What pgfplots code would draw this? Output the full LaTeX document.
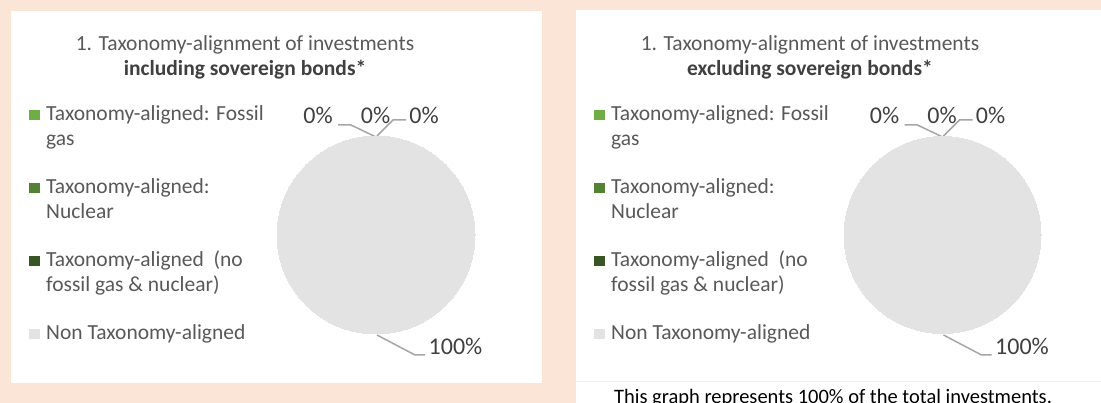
\documentclass[border=0pt]{standalone}
\usepackage{fontspec}
\setmainfont{Carlito}
\usepackage{pgfplots}
\pgfplotsset{compat=1.18}

\definecolor{peach}{HTML}{FBE5D6}
\definecolor{gasgreen}{HTML}{70AD47}
\definecolor{nucgreen}{HTML}{548235}
\definecolor{darkgreen}{HTML}{375623}
\definecolor{nongray}{HTML}{E3E3E3}
\definecolor{txtgray}{HTML}{595959}
\definecolor{labgray}{HTML}{404040}
\definecolor{leadgray}{HTML}{A6A6A6}

\newcommand\legfont{\fontsize{21.5}{25}\selectfont}
\newcommand\labfont{\fontsize{24}{28}\selectfont}

% one panel = one hidden axis, coordinates in px from the panel's top left corner
\pgfplotsset{
  panel/.style={
    scale only axis, width=531pt, height=372pt,
    xmin=0, xmax=531, ymin=0, ymax=372, y dir=reverse,
    hide axis, clip=false, anchor=north west,
    title style={at={(axis cs:234,71)}, anchor=base, align=center,
      inner sep=0pt, font=\legfont, text=txtgray},
    legend style={at={(axis cs:18,91.5)}, anchor=north west,
      draw=none, fill=none, inner sep=0pt, row sep=54pt, column sep=6.5pt,
      nodes={inner sep=0pt, text=txtgray, font=\legfont},
      cells={anchor=base west}},
    legend image code/.code={\fill[##1] (0pt,0pt) rectangle (10.5pt,10.5pt);},
  },
  lead/.style={forget plot, leadgray, line width=1.5pt},
  pie/.style={forget plot, nongray, only marks, mark=*,
    mark options={draw=nongray, fill=nongray, line width=0pt}},
  pielabels/.style={forget plot, draw=none, nodes near coords,
    point meta=explicit symbolic,
    every node near coord/.append style={anchor=base, inner sep=0pt,
      font=\labfont, text=labgray}},
}

\newcommand\pielegend{%
  \addlegendimage{fill=gasgreen, draw=none}
  \addlegendentry{\parbox[t]{230pt}{\strut Taxonomy-aligned: Fossil\\gas\strut}}
  \addlegendimage{fill=nucgreen, draw=none}
  \addlegendentry{\parbox[t]{230pt}{\strut Taxonomy-aligned:\\Nuclear\strut}}
  \addlegendimage{fill=darkgreen, draw=none}
  \addlegendentry{\parbox[t]{230pt}{\strut Taxonomy-aligned\ \ (no\\fossil gas \& nuclear)\strut}}
  \addlegendimage{fill=nongray, draw=none}
  \addlegendentry{\parbox[t]{230pt}{\strut Non Taxonomy-aligned\strut}}
}

\begin{document}
\begin{tikzpicture}
\useasboundingbox (0,0) rectangle (1101pt,403pt);
\clip (0,0) rectangle (1101pt,403pt);
\fill[peach] (0,0) rectangle (1101pt,403pt);
\fill[white] (11pt,20pt) rectangle (542pt,392pt);
\fill[white] (576pt,0pt) rectangle (1101pt,393pt);
\draw[peach!70, line width=1pt] (576pt,21pt) -- (1101pt,21pt);

% including sovereign bonds: 0 / 0 / 0 / 100 %
\begin{axis}[panel, at={(11pt,392pt)},
  title={1. Taxonomy-alignment of investments\\\textbf{\color{labgray}including sovereign bonds*}}]
\pielegend
\addplot[pie, mark size=99pt] coordinates {(365,224)};
\addplot[lead] coordinates {(327,114) (340,114) (365,126)};
\addplot[lead] coordinates {(365,126) (382,109) (395,109)};
\addplot[lead] coordinates {(366,324) (404,344) (414,344)};
\addplot[pielabels] coordinates {(307,113) [0\%] (364.5,113) [0\%] (413,113) [0\%] (444.5,344) [100\%]};
\end{axis}

% excluding sovereign bonds: 0 / 0 / 0 / 100 %
\begin{axis}[panel, at={(576pt,392pt)},
  title={1. Taxonomy-alignment of investments\\\textbf{\color{labgray}excluding sovereign bonds*}}]
\pielegend
\addplot[pie, mark size=98.5pt] coordinates {(366.5,224)};
\addplot[lead] coordinates {(328.5,114) (341.5,114) (366.5,126)};
\addplot[lead] coordinates {(366.5,126) (383.5,109) (396.5,109)};
\addplot[lead] coordinates {(367.5,324) (405.5,344) (415.5,344)};
\addplot[pielabels] coordinates {(308.5,113) [0\%] (366,113) [0\%] (414.5,113) [0\%] (446,344) [100\%]};
\end{axis}

\node[anchor=base, inner sep=0pt, font=\fontsize{20.5}{24}\selectfont, text=black]
  at (833pt,-0.3pt) {This graph represents 100\% of the total investments.};
\end{tikzpicture}
\end{document}
